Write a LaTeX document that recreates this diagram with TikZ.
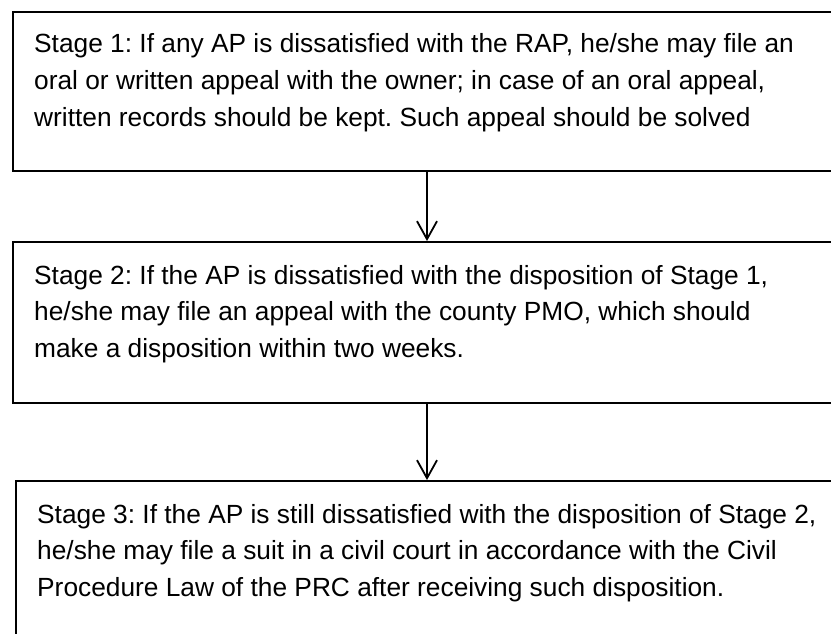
\documentclass[tikz,border=0pt]{standalone}
\usepackage{fontspec}
\setmainfont{Liberation Sans}
\usepackage{tikz}
\usetikzlibrary{arrows.meta}
\frenchspacing

\begin{document}
\begin{tikzpicture}[x=1pt, y=-1pt,
    stagebox/.style={draw, line width=2pt, minimum width=850pt, anchor=north west, inner sep=0pt},
    stagetext/.style={align=left, anchor=base west, inner sep=0pt,
        font=\fontsize{26.3}{36.7}\selectfont},
    flowarrow/.style={line width=1.8pt, -{Straight Barb[length=18pt, width=20pt, line width=1.8pt]}}]
    \useasboundingbox (0,0) rectangle (831,633);
    \clip (0,0) rectangle (831,633);
    \node[stagebox, minimum height=159pt] (stage1) at (12,11) {};
    \node[stagebox, minimum height=161pt] (stage2) at (12,241) {};
    \node[stagebox, minimum height=200pt] (stage3) at (15,480) {};
    % text anchored at the baseline of its last line
    \node[stagetext] (stage1text) at (34,126) {Stage 1: If any AP is dissatisfied with the RAP, he/she may file an\\
        oral or written appeal with the owner; in case of an oral appeal,\\
        written records should be kept. Such appeal should be solved};
    \node[stagetext] (stage2text) at (34,357.5) {Stage 2: If the AP is dissatisfied with the disposition of Stage 1,\\
        he/she may file an appeal with the county PMO, which should\\
        make a disposition within two weeks.};
    \node[stagetext] (stage3text) at (37,596.5) {Stage 3: If the AP is still dissatisfied with the disposition of Stage 2,\\
        he/she may file a suit in a civil court in accordance with the Civil\\
        Procedure Law of the PRC after receiving such disposition.};
    \coordinate (axis) at (427,0);
    \draw[flowarrow] (stage1.south -| axis) -- (stage2.north -| axis);
    \draw[flowarrow] (stage2.south -| axis) -- (stage3.north -| axis);
\end{tikzpicture}
\end{document}
